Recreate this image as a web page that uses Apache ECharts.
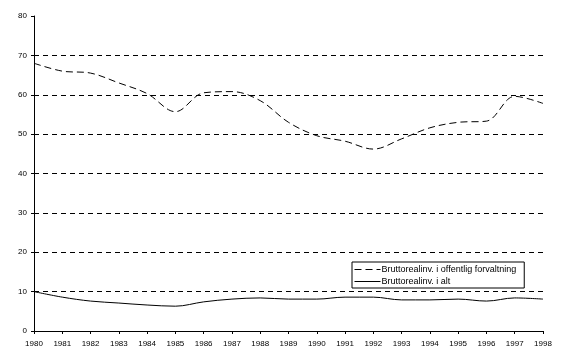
<!DOCTYPE html>
<html><head><meta charset="utf-8">
<script src="https://cdn.jsdelivr.net/npm/echarts@6/dist/echarts.min.js"></script>
<style>html,body{margin:0;padding:0;background:#fff}#c{width:575px;height:358px}</style>
</head><body><div id="c"></div>
<script>
const years = ['1980','1981','1982','1983','1984','1985','1986','1987','1988','1989','1990','1991','1992','1993','1994','1995','1996','1997','1998'];
const offentlig = [68, 66, 65.5, 63, 60.3, 55.7, 60.5, 60.8, 58.5, 53, 49.6, 48.2, 46.2, 48.8, 51.6, 53, 53.3, 59.6, 57.8];
const iAlt = [10, 8.6, 7.6, 7.1, 6.6, 6.3, 7.4, 8.1, 8.4, 8.1, 8.1, 8.6, 8.6, 7.9, 7.9, 8.1, 7.6, 8.4, 8.1];
const names = ['Bruttorealinv. i offentlig forvaltning', 'Bruttorealinv. i alt'];
const font = 'Arial, "Liberation Sans", sans-serif';
const chart = echarts.init(document.getElementById('c'));
chart.setOption({
  animation: false,
  backgroundColor: '#fff',
  grid: {left: 34, right: 32, top: 16, bottom: 27},
  legend: {
    orient: 'vertical', left: 352, top: 262,
    borderColor: '#000', borderWidth: 1, padding: [3, 8, 2, 2], itemGap: 3,
    itemWidth: 26, itemHeight: 8,
    itemStyle: {opacity: 0},
    lineStyle: {width: 1},
    textStyle: {fontFamily: font, fontSize: 9, color: '#000', padding: [0,0,0,-4]},
    data: names
  },
  xAxis: {
    type: 'category', data: years, boundaryGap: false,
    axisLine: {lineStyle: {color: '#000', width: 1}},
    axisTick: {length: 3, lineStyle: {color: '#000'}, alignWithLabel: true},
    axisLabel: {fontFamily: font, fontSize: 8, color: '#000', margin: 9, interval: 0},
    splitLine: {show: false}
  },
  yAxis: {
    type: 'value', min: 0, max: 80, interval: 10,
    axisLine: {show: true, lineStyle: {color: '#000', width: 1}},
    axisTick: {show: true, length: 3, lineStyle: {color: '#000'}},
    axisLabel: {fontFamily: font, fontSize: 8, color: '#000', margin: 7},
    splitLine: {show: true, lineStyle: {color: ['rgba(0,0,0,0)','#000','#000','#000','#000','#000','#000','#000','rgba(0,0,0,0)'], type: [5, 4], width: 1}}
  },
  series: [
    {name: names[0], type: 'line', data: offentlig, smooth: 0.35, showSymbol: false, symbol: 'none',
     lineStyle: {color: '#000', width: 1, type: [7, 4]}, itemStyle: {color: '#000'}},
    {name: names[1], type: 'line', data: iAlt, smooth: 0.35, showSymbol: false, symbol: 'none',
     lineStyle: {color: '#000', width: 1}, itemStyle: {color: '#000'}}
  ]
});
</script></body></html>
